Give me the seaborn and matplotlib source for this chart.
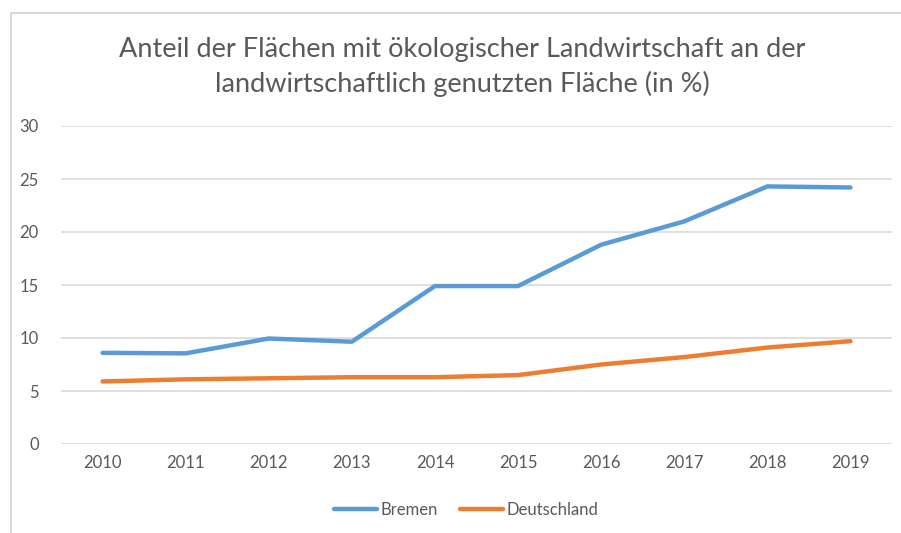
import pandas as pd
import seaborn as sns
import matplotlib.pyplot as plt
from matplotlib.patches import Rectangle
from matplotlib.lines import Line2D

years = ["2010", "2011", "2012", "2013", "2014", "2015", "2016", "2017", "2018", "2019"]
bremen = [8.6, 8.55, 9.95, 9.65, 14.9, 14.9, 18.8, 21.0, 24.3, 24.2]
deutschland = [5.9, 6.1, 6.2, 6.3, 6.3, 6.5, 7.5, 8.2, 9.1, 9.7]
series_names = ["Bremen", "Deutschland"]
title = "Anteil der Flächen mit ökologischer Landwirtschaft an der\nlandwirtschaftlich genutzten Fläche (in %)"

colors = {"Bremen": "#5B9BD5", "Deutschland": "#ED7D31"}
text_gray = "#595959"
grid_gray = "#D9D9D9"

df = pd.DataFrame({
    "pos": list(range(len(years))) * 2,
    "value": bremen + deutschland,
    "series": [series_names[0]] * len(years) + [series_names[1]] * len(years),
})

sns.set_theme(style="white")
plt.rcParams["font.family"] = ["Lato", "DejaVu Sans"]

fig = plt.figure(figsize=(9.01, 5.33), dpi=100)
ax = fig.add_axes([61 / 901, 1 - 444 / 533, (892 - 61) / 901, (444 - 126) / 533])

# outer chart frame (runs off the right and bottom edges)
fig.patches.append(Rectangle((11 / 901, -0.05), 1.1, 1 - 13 / 533 + 0.05,
                             transform=fig.transFigure, fill=False,
                             edgecolor=grid_gray, linewidth=1.5))

sns.lineplot(data=df, x="pos", y="value", hue="series", palette=colors,
             linewidth=3.2, ax=ax, legend=False, clip_on=False)
for line in ax.lines:
    line.set_solid_capstyle("round")

ax.set_xlim(-0.5, len(years) - 0.5)
ax.set_ylim(0, 30)
ax.set_yticks(range(0, 31, 5))
ax.set_xticks(range(len(years)))
ax.set_xticklabels(years)
ax.set_xlabel("")
ax.set_ylabel("")
ax.yaxis.grid(True, color=grid_gray, linewidth=1.2)
ax.set_axisbelow(True)
for s in ax.spines.values():
    s.set_visible(False)
ax.tick_params(axis="both", length=0, colors=text_gray, labelsize=12)
ax.tick_params(axis="y", pad=16)
ax.tick_params(axis="x", pad=8)

fig.text(462 / 901, 1 - 67 / 533, title, ha="center", va="center",
         fontsize=19.5, color=text_gray, linespacing=1.38)

handles = [Line2D([], [], color=colors[n], linewidth=3.2, solid_capstyle="round") for n in series_names]
leg = fig.legend(handles, series_names, loc="center", bbox_to_anchor=(466 / 901, 1 - 510 / 533),
                 ncol=2, frameon=False, fontsize=12, handlelength=2.6, handletextpad=0.2,
                 columnspacing=1.3, labelcolor=text_gray)

fig.savefig("out.png", dpi=100)
